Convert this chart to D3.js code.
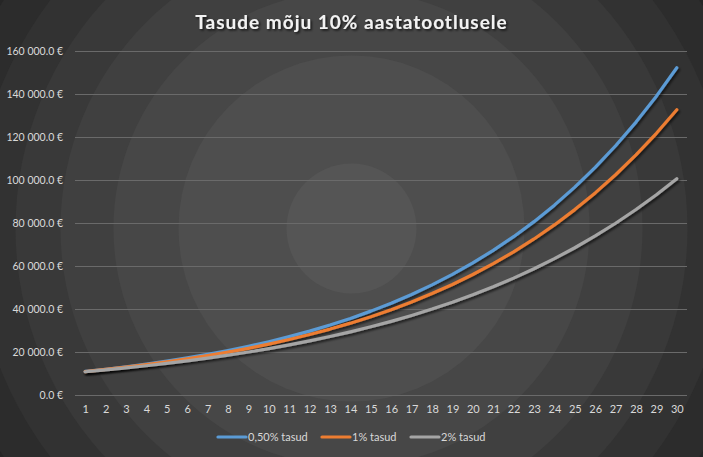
<!DOCTYPE html>
<html><head><meta charset="utf-8">
<script src="https://cdn.jsdelivr.net/npm/d3@7"></script>
<style>html,body{margin:0;padding:0;background:#2a2a2a;}svg{display:block;}</style>
</head><body>
<svg id="chart" width="703" height="457"></svg>
<script>
const years = d3.range(1, 31);
const seriesNames = ["0,50% tasud", "1% tasud", "2% tasud"];
const seriesColors = ["#5B9BD5", "#ED7D31", "#A5A5A5"];
const fee050 = [10950,11990,13129,14377,15742,17238,18876,20669,22632,24782,27137,29715,32537,35629,39013,42719,46778,51222,56088,61416,67251,73639,80635,88296,96684,105869,115926,126939,138998,152203];
const fee1 = [10900,11881,12950,14116,15386,16771,18280,19926,21719,23674,25804,28127,30658,33417,36425,39703,43276,47171,51417,56044,61088,66586,72579,79111,86231,93992,102451,111671,121722,132677];
const fee2 = [10800,11664,12597,13605,14693,15869,17138,18509,19990,21589,23316,25182,27196,29372,31722,34259,37000,39960,43157,46610,50338,54365,58715,63412,68485,73964,79881,86271,93173,100627];
const seriesValues = [fee050, fee1, fee2];
const yTicks = [0,20000,40000,60000,80000,100000,120000,140000,160000];

const W = 703, H = 457;
const svg = d3.select("#chart");
const defs = svg.append("defs");

// background: banded radial rings
const cx = W/2, cy = H/2;
const bandColors = ["#555555","#4e4e4e","#474747","#404040","#393939","#323232","#2c2c2c","#262626"];
const radii = [65,173,238,291,336,378,416,460];
for (let i = radii.length - 1; i >= 0; i--) {
  svg.append("circle").attr("cx", cx).attr("cy", cy).attr("r", i === radii.length-1 ? 600 : radii[i]).attr("fill", bandColors[i]);
}

const f = defs.append("filter").attr("id","sh").attr("x","-10%").attr("y","-10%").attr("width","130%").attr("height","130%");
f.append("feDropShadow").attr("dx",1.5).attr("dy",2).attr("stdDeviation",1.3).attr("flood-color","#000").attr("flood-opacity",0.6);
const tf = defs.append("filter").attr("id","tsh").attr("x","-10%").attr("y","-30%").attr("width","120%").attr("height","160%");
tf.append("feDropShadow").attr("dx",1.5).attr("dy",1.5).attr("stdDeviation",1).attr("flood-color","#000").attr("flood-opacity",0.75);

const pLeft = 75, pRight = 687, pTop = 51, pBottom = 395;
const x = d3.scalePoint().domain(years).range([pLeft + 10.2, pRight - 10.2]);
const y = d3.scaleLinear().domain([0, 160000]).range([pBottom, pTop]);

const fmt = v => d3.format(",.1f")(v).replace(/,/g, "\u00a0") + "\u00a0€";

// gridlines
const yAxis = d3.axisLeft(y).tickValues(yTicks).tickSize(-(pRight-pLeft)).tickFormat(fmt).tickPadding(12);
const gy = svg.append("g").attr("transform", `translate(${pLeft},0)`).call(yAxis);
gy.select(".domain").remove();
gy.selectAll(".tick line").attr("stroke", "#6a6a6a").attr("stroke-width", 1);
gy.selectAll(".tick text").attr("fill", "#d9d9d9").attr("font-family", "Lato, 'Open Sans', sans-serif").attr("font-size", "10.5px").attr("x", -12);

const xAxis = d3.axisBottom(x).tickSize(0).tickPadding(10);
const gx = svg.append("g").attr("transform", `translate(0,${pBottom})`).call(xAxis);
gx.select(".domain").remove();
gx.selectAll(".tick text").attr("fill", "#d9d9d9").attr("font-family", "Lato, 'Open Sans', sans-serif").attr("font-size", "11px");

// lines
const line = d3.line().x((d,i) => x(years[i])).y(d => y(d));
seriesValues.forEach((vals, k) => {
  svg.append("path").datum(vals).attr("d", line).attr("fill","none")
    .attr("stroke", seriesColors[k]).attr("stroke-width", 3.2).attr("stroke-linecap","round").attr("stroke-linejoin","round")
    .attr("filter","url(#sh)");
});

// title
svg.append("text").attr("x", W/2).attr("y", 29).attr("text-anchor","middle")
  .attr("font-family","Lato, 'Open Sans', sans-serif").attr("font-weight","bold").attr("font-size","19px")
  .attr("letter-spacing","1px").attr("fill","#f2f2f2").attr("filter","url(#tsh)")
  .text("Tasude mõju 10% aastatootlusele");

// legend
const legX = [218, 322, 411];
const lg = svg.append("g");
seriesNames.forEach((n, k) => {
  lg.append("line").attr("x1", legX[k]).attr("x2", legX[k] + 28).attr("y1", 437).attr("y2", 437)
    .attr("stroke", seriesColors[k]).attr("stroke-width", 3.2).attr("stroke-linecap","round");
  lg.append("text").attr("x", legX[k] + 30).attr("y", 437).attr("dy","0.35em")
    .attr("fill","#d9d9d9").attr("font-family","Lato, 'Open Sans', sans-serif").attr("font-size","11px").text(n);
});
</script>
</body></html>
